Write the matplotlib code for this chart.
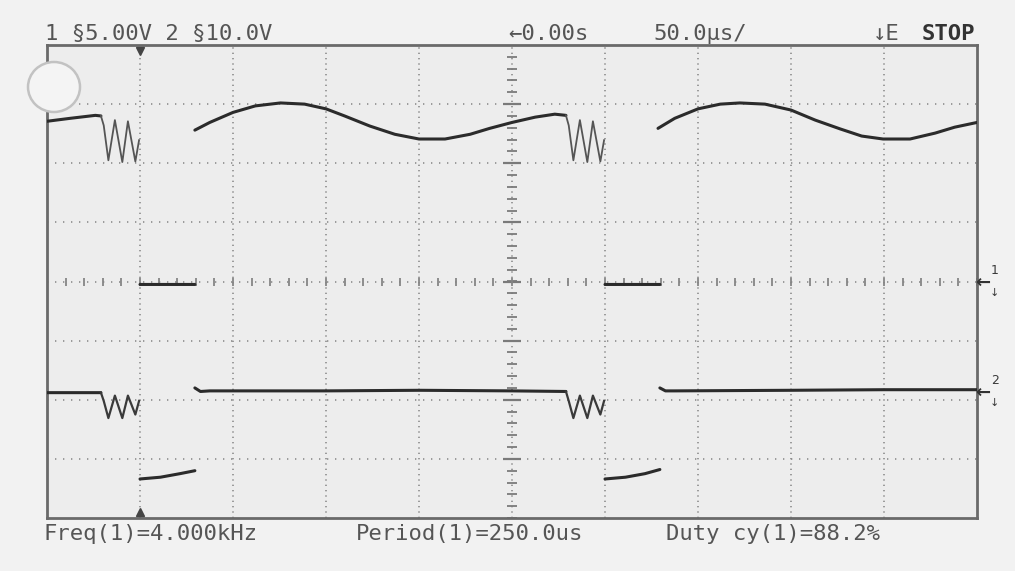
import numpy as np
import matplotlib
matplotlib.use("Agg")
import matplotlib.pyplot as plt
from matplotlib.patches import Ellipse

nan = np.nan

# screen coordinates in divisions: time 0..10 (50 us/div), volts -4..4 from centre
ch1_t = [0.00, 0.25, 0.52, 0.58, nan,
         1.00, 1.59, nan,
         1.59, 1.75, 2.00, 2.24, 2.51, 2.77, 3.00, 3.20, 3.47, 3.74, 4.00, 4.28,
         4.55, 4.76, 5.00, 5.25, 5.46, 5.58, nan,
         6.00, 6.59, nan,
         6.57, 6.75, 7.00, 7.24, 7.45, 7.72, 8.00, 8.26, 8.53, 8.76, 8.99, 9.28,
         9.55, 9.76, 10.00]
ch1_v = [2.71, 2.76, 2.81, 2.80, nan,
         -0.05, -0.05, nan,
         2.56, 2.69, 2.86, 2.97, 3.02, 3.00, 2.92, 2.80, 2.63, 2.49, 2.41, 2.41,
         2.49, 2.59, 2.69, 2.78, 2.83, 2.81, nan,
         -0.05, -0.05, nan,
         2.59, 2.76, 2.92, 3.00, 3.02, 3.00, 2.90, 2.73, 2.58, 2.46, 2.41, 2.41,
         2.51, 2.61, 2.69]

ch2_t = [0.00, 0.58, nan,
         1.00, 1.22, 1.43, 1.59, nan,
         1.59, 1.65, 1.75, 3.00, 4.00, 5.00, 5.58, nan,
         6.00, 6.22, 6.43, 6.59, nan,
         6.59, 6.65, 6.75, 8.00, 9.00, 10.00]
ch2_v = [-1.88, -1.88, nan,
         -3.34, -3.31, -3.25, -3.20, nan,
         -1.80, -1.86, -1.85, -1.85, -1.84, -1.85, -1.86, nan,
         -3.34, -3.31, -3.25, -3.18, nan,
         -1.80, -1.85, -1.85, -1.84, -1.83, -1.83]

# ringing after the falling edge (both channels)
ring_t = [0.58, 0.61, 0.66, 0.73, 0.81, 0.87, 0.95, 0.99, nan,
          5.58, 5.61, 5.66, 5.73, 5.81, 5.87, 5.95, 5.99]
ch1_ring_v = [2.80, 2.64, 2.05, 2.73, 2.02, 2.71, 2.03, 2.39, nan,
              2.81, 2.64, 2.05, 2.73, 2.02, 2.71, 2.03, 2.39]
ch2_ring_v = [-1.88, -2.02, -2.31, -1.93, -2.31, -1.93, -2.25, -2.02, nan,
              -1.86, -2.02, -2.31, -1.93, -2.31, -1.93, -2.25, -2.02]

header_left = "1 §5.00V 2 §10.0V"
header_time = "←0.00s"
header_scale = "50.0µs/"
header_trig = "↓E"
header_state = "STOP"
meas_labels = ["Freq(1)=4.000kHz", "Period(1)=250.0us", "Duty cy(1)=88.2%"]

W, H = 1015, 571
TXT = "#555555"
TRACE = "#2b2b2b"
GRID = "#8c8c8c"


def px(x, y):
    return x / W, 1 - y / H


fig = plt.figure(figsize=(W / 100, H / 100), dpi=100, facecolor="#f2f2f2")
ax = fig.add_axes([47 / W, (H - 518) / H, 930 / W, 473 / H])
ax.set_facecolor("#ededed")
ax.set_xlim(0, 10)
ax.set_ylim(-4, 4)
ax.set_xticks([])
ax.set_yticks([])
for s in ax.spines.values():
    s.set_color("#6a6a6a")
    s.set_linewidth(2.0)

# graticule
for gx in range(1, 10):
    ax.axvline(gx, color=GRID, lw=1.2, ls=(0, (0.8, 2.4)), zorder=1)
for gy in range(-3, 4):
    ax.axhline(gy, color=GRID, lw=1.2, ls=(0, (0.8, 4.0)), zorder=1)

minor_y = np.arange(-4, 4.001, 0.2)
ax.plot([5] * len(minor_y), minor_y, ls="none", marker="_", ms=7, mew=1.3,
        color="#7a7a7a", zorder=2)
ax.plot([5] * 7, range(-3, 4), ls="none", marker="_", ms=13, mew=1.6,
        color="#7a7a7a", zorder=2)
minor_x = np.arange(0, 10.001, 0.2)
ax.plot(minor_x, [0] * len(minor_x), ls="none", marker="|", ms=6, mew=1.3,
        color="#858585", zorder=2)

# traces
ax.plot(ch1_t, ch1_v, color=TRACE, lw=2.2, zorder=4, solid_capstyle="round")
ax.plot(ch2_t, ch2_v, color=TRACE, lw=2.2, zorder=4, solid_capstyle="round")
ax.plot(ring_t, ch1_ring_v, color="#555555", lw=1.3, zorder=4)
ax.plot(ring_t, ch2_ring_v, color="#3a3a3a", lw=1.6, zorder=4)

# trigger position markers
ax.plot([1.0], [3.9], marker="v", ms=6, color="#444444", clip_on=False, zorder=5)
ax.plot([1.0], [-3.9], marker="^", ms=6, color="#444444", clip_on=False, zorder=5)

# header and measurement text
fs = 16
mono = "DejaVu Sans Mono"
fig.text(*px(45, 40), header_left, fontsize=fs, family=mono, color=TXT, va="baseline")
fig.text(*px(508, 40), header_time, fontsize=fs, family=mono, color=TXT, va="baseline")
fig.text(*px(653, 40), header_scale, fontsize=fs, family=mono, color=TXT, va="baseline")
fig.text(*px(873, 40), header_trig, fontsize=fs, family=mono, color=TXT, va="baseline")
fig.text(*px(922, 40), header_state, fontsize=fs, family=mono, color="#333333",
         va="baseline", weight="bold")
for xpos, lab in zip([43, 356, 666], meas_labels):
    fig.text(*px(xpos, 540), lab, fontsize=fs, family=mono, color=TXT, va="baseline")

# channel ground markers on the right edge
for lab, ypos in [("1", 283), ("2", 393)]:
    fig.text(*px(975, ypos), "←", fontsize=13, color="#333333", va="center",
             ha="left", weight="bold")
    fig.text(*px(991, ypos - 12), lab, fontsize=9, color="#3a3a3a", va="center", ha="left")
    fig.text(*px(990, ypos + 10), "↓", fontsize=8, color="#3a3a3a", va="center", ha="left")

# hole punch shadow at top-left of the print
fig.add_artist(Ellipse(px(54, 87), 52 / W, 50 / H, transform=fig.transFigure,
                       facecolor="#f4f4f4", edgecolor="#c2c2c2", lw=1.8, zorder=10))

fig.savefig("out.png", dpi=100, facecolor=fig.get_facecolor())
